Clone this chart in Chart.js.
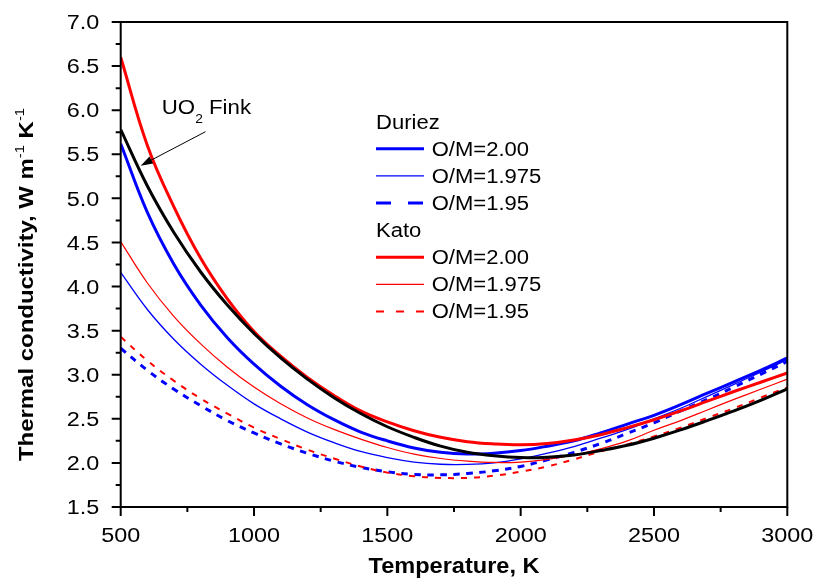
<!DOCTYPE html>
<html>
<head>
<meta charset="utf-8">
<title>Thermal conductivity</title>
<script src="https://cdn.jsdelivr.net/npm/chart.js@4.4.1/dist/chart.umd.min.js"></script>
<style>
  html, body { margin: 0; padding: 0; background: #fff; }
  canvas { display: block; }
</style>
</head>
<body>
<canvas id="grafico" width="818" height="581"></canvas>
<script>
// Temperaturas (K) onde as curvas foram lidas
const temperaturas = [500, 600, 700, 800, 900, 1000, 1100, 1200, 1300, 1400, 1500, 1600, 1700,
                      1800, 1900, 2000, 2100, 2200, 2300, 2400, 2500, 2600, 2700, 2800, 2900, 3000];

// Condutividade térmica (W m-1 K-1) - modelo Duriez
const duriez200  = [5.62, 4.84, 4.25, 3.79, 3.42, 3.12, 2.87, 2.66, 2.49, 2.35, 2.25, 2.17, 2.12,
                    2.10, 2.11, 2.14, 2.19, 2.25, 2.34, 2.44, 2.54, 2.66, 2.79, 2.92, 3.05, 3.19];
const duriez1975 = [4.16, 3.74, 3.40, 3.12, 2.88, 2.67, 2.50, 2.35, 2.23, 2.13, 2.06, 2.01, 1.985,
                    1.983, 2.00, 2.045, 2.11, 2.185, 2.28, 2.38, 2.50, 2.62, 2.755, 2.89, 3.03, 3.17];
const duriez195  = [3.30, 3.05, 2.835, 2.65, 2.48, 2.34, 2.215, 2.11, 2.02, 1.95, 1.90, 1.87, 1.865,
                    1.88, 1.91, 1.96, 2.035, 2.12, 2.22, 2.335, 2.455, 2.59, 2.72, 2.86, 3.005, 3.15];

// Modelo Kato
const kato200  = [6.60, 5.60, 4.90, 4.32, 3.86, 3.49, 3.21, 2.97, 2.765, 2.59, 2.465, 2.365, 2.29,
                  2.24, 2.215, 2.205, 2.22, 2.26, 2.32, 2.40, 2.49, 2.59, 2.70, 2.81, 2.915, 3.02];
const kato1975 = [4.51, 4.04, 3.66, 3.35, 3.085, 2.86, 2.67, 2.51, 2.38, 2.27, 2.175, 2.10, 2.05,
                  2.02, 2.005, 2.01, 2.04, 2.09, 2.16, 2.25, 2.37, 2.48, 2.60, 2.72, 2.835, 2.95];
const kato195  = [3.43, 3.16, 2.93, 2.73, 2.56, 2.40, 2.27, 2.15, 2.05, 1.96, 1.89, 1.85, 1.83,
                  1.83, 1.855, 1.90, 1.96, 2.04, 2.13, 2.21, 2.30, 2.40, 2.51, 2.62, 2.74, 2.855];

// Referência UO2 (Fink)
const finkUO2 = [5.78, 5.14, 4.61, 4.165, 3.79, 3.467, 3.19, 2.95, 2.74, 2.56, 2.41, 2.29, 2.19,
                 2.12, 2.08, 2.06, 2.065, 2.09, 2.14, 2.20, 2.28, 2.375, 2.48, 2.59, 2.71, 2.84];

// Marcações dos eixos
const ticksX = [500, 1000, 1500, 2000, 2500, 3000];
const ticksY = [1.5, 2.0, 2.5, 3.0, 3.5, 4.0, 4.5, 5.0, 5.5, 6.0, 6.5, 7.0];

const AZUL = '#0000ff';
const VERMELHO = '#ff0000';
const PRETO = '#000000';
const FONTE = '"Liberation Sans", Arial, sans-serif';

function pontos(serie) {
    return temperaturas.map((t, i) => ({ x: t, y: serie[i] }));
}

function curva(serie, cor, largura, tracejado, ordem) {
    return {
        data: pontos(serie),
        borderColor: cor,
        borderWidth: largura,
        borderDash: tracejado || [],
        pointRadius: 0,
        fill: false,
        tension: 0.4,
        order: ordem
    };
}

// Legenda em dois grupos (Duriez / Kato)
const legenda = [
    { titulo: 'Duriez' },
    { texto: 'O/M=2.00',  cor: AZUL, largura: 3, tracejado: [] },
    { texto: 'O/M=1.975', cor: AZUL, largura: 1.3, tracejado: [] },
    { texto: 'O/M=1.95',  cor: AZUL, largura: 3, tracejado: [15, 17] },
    { titulo: 'Kato' },
    { texto: 'O/M=2.00',  cor: VERMELHO, largura: 3, tracejado: [] },
    { texto: 'O/M=1.975', cor: VERMELHO, largura: 1.2, tracejado: [] },
    { texto: 'O/M=1.95',  cor: VERMELHO, largura: 2, tracejado: [8, 12] }
];

// Seta e rótulo da curva de Fink (em coordenadas de dados)
const setaFink = { de: [818, 5.756], para: [575, 5.371] };
const rotuloFink = [654, 5.953];

// Texto levemente esticado na horizontal, como na fonte original
function textoEsticado(ctx, texto, x, y, esticar, alinhar) {
    ctx.save();
    ctx.translate(x, y);
    ctx.scale(esticar, 1);
    ctx.textAlign = alinhar || 'left';
    ctx.textBaseline = 'alphabetic';
    ctx.fillText(texto, 0, 0);
    ctx.restore();
}

const moldura = {
    id: 'moldura',
    afterDraw(chart) {
        const ctx = chart.ctx;
        const area = chart.chartArea;
        const sx = chart.scales.x;
        const sy = chart.scales.y;
        ctx.save();
        ctx.fillStyle = PRETO;
        ctx.strokeStyle = PRETO;

        // caixa do gráfico
        ctx.lineWidth = 2;
        ctx.setLineDash([]);
        ctx.strokeRect(area.left, area.top, area.right - area.left, area.bottom - area.top);

        // marcas principais e secundárias
        ctx.beginPath();
        ticksX.forEach((v, i) => {
            const px = sx.getPixelForValue(v);
            ctx.moveTo(px, area.bottom); ctx.lineTo(px, area.bottom + 9);
            if (i < ticksX.length - 1) {
                const pm = sx.getPixelForValue((v + ticksX[i + 1]) / 2);
                ctx.moveTo(pm, area.bottom); ctx.lineTo(pm, area.bottom + 5);
            }
        });
        ticksY.forEach((v, i) => {
            const py = sy.getPixelForValue(v);
            ctx.moveTo(area.left, py); ctx.lineTo(area.left - 9, py);
            if (i < ticksY.length - 1) {
                const pm = sy.getPixelForValue((v + ticksY[i + 1]) / 2);
                ctx.moveTo(area.left, pm); ctx.lineTo(area.left - 5, pm);
            }
        });
        ctx.stroke();

        // rótulos das marcas
        ctx.font = '20px ' + FONTE;
        ticksX.forEach(v => {
            textoEsticado(ctx, String(v), sx.getPixelForValue(v), area.bottom + 35, 1.17, 'center');
        });
        ticksY.forEach(v => {
            textoEsticado(ctx, v.toFixed(1), area.left - 21.5, sy.getPixelForValue(v) + 7.2, 1.17, 'right');
        });

        // título do eixo x
        ctx.font = 'bold 22px ' + FONTE;
        textoEsticado(ctx, 'Temperature, K', (area.left + area.right) / 2, area.bottom + 66, 1.07, 'center');

        // título do eixo y, com expoentes
        const partes = [
            { t: 'Thermal conductivity, W m', f: 'bold 21px ' + FONTE, dy: 0 },
            { t: '-1', f: '13px ' + FONTE, dy: -9 },
            { t: ' K', f: 'bold 21px ' + FONTE, dy: 0 },
            { t: '-1', f: '13px ' + FONTE, dy: -9 }
        ];
        const esticarY = 1.14;
        let total = 0;
        partes.forEach(p => { ctx.font = p.f; p.w = ctx.measureText(p.t).width; total += p.w; });
        ctx.save();
        ctx.translate(area.left - 87.4, (area.top + area.bottom) / 2 + 20);
        ctx.rotate(-Math.PI / 2);
        ctx.scale(esticarY, 1);
        ctx.textAlign = 'left';
        ctx.textBaseline = 'alphabetic';
        let cx = -total / 2;
        partes.forEach(p => {
            ctx.font = p.f;
            ctx.fillText(p.t, cx, p.dy);
            cx += p.w;
        });
        ctx.restore();

        // legenda
        const x0 = area.left + 255.3;
        let y0 = area.top + 99.7;
        legenda.forEach(item => {
            if (item.titulo) {
                ctx.font = '19.5px ' + FONTE;
                ctx.fillStyle = PRETO;
                textoEsticado(ctx, item.titulo, x0, y0 + 7, 1.13, 'left');
            } else {
                ctx.beginPath();
                ctx.strokeStyle = item.cor;
                ctx.lineWidth = item.largura;
                ctx.setLineDash(item.tracejado);
                ctx.moveTo(x0, y0); ctx.lineTo(x0 + 48, y0);
                ctx.stroke();
                ctx.setLineDash([]);
                ctx.font = '19.5px ' + FONTE;
                ctx.fillStyle = PRETO;
                textoEsticado(ctx, item.texto, x0 + 55.7, y0 + 7, 1.13, 'left');
            }
            y0 += 27.1;
        });

        // rótulo "UO2 Fink" e seta
        const lx = sx.getPixelForValue(rotuloFink[0]);
        const ly = sy.getPixelForValue(rotuloFink[1]);
        ctx.fillStyle = PRETO;
        ctx.font = '21px ' + FONTE;
        textoEsticado(ctx, 'UO', lx, ly, 1.06, 'left');
        const wUO = ctx.measureText('UO').width * 1.06;
        ctx.font = '13px ' + FONTE;
        textoEsticado(ctx, '2', lx + wUO, ly + 8.4, 1.06, 'left');
        const w2 = ctx.measureText('2').width * 1.06;
        ctx.font = '21px ' + FONTE;
        textoEsticado(ctx, ' Fink', lx + wUO + w2, ly, 1.06, 'left');

        const ax = sx.getPixelForValue(setaFink.de[0]);
        const ay = sy.getPixelForValue(setaFink.de[1]);
        const bx = sx.getPixelForValue(setaFink.para[0]);
        const by = sy.getPixelForValue(setaFink.para[1]);
        const ang = Math.atan2(by - ay, bx - ax);
        ctx.strokeStyle = PRETO;
        ctx.lineWidth = 1;
        ctx.beginPath();
        ctx.moveTo(ax, ay);
        ctx.lineTo(bx - 10 * Math.cos(ang), by - 10 * Math.sin(ang));
        ctx.stroke();
        ctx.beginPath();
        ctx.moveTo(bx, by);
        ctx.lineTo(bx - 12 * Math.cos(ang) + 4 * Math.sin(ang), by - 12 * Math.sin(ang) - 4 * Math.cos(ang));
        ctx.lineTo(bx - 12 * Math.cos(ang) - 4 * Math.sin(ang), by - 12 * Math.sin(ang) + 4 * Math.cos(ang));
        ctx.closePath();
        ctx.fill();

        ctx.restore();
    }
};

const grafico = new Chart(document.getElementById('grafico').getContext('2d'), {
    type: 'line',
    data: {
        datasets: [
            curva(duriez200,  AZUL, 3, null, 6),
            curva(duriez1975, AZUL, 1.3, null, 4),
            curva(duriez195,  AZUL, 3, [6.5, 6.5], 5),
            curva(kato200,    VERMELHO, 3, null, 3),
            curva(kato1975,   VERMELHO, 1.2, null, 2),
            curva(kato195,    VERMELHO, 2, [6, 7], 1),
            curva(finkUO2,    PRETO, 3, null, 0)
        ]
    },
    options: {
        responsive: false,
        animation: false,
        devicePixelRatio: 1,
        layout: { padding: { left: 120.7, right: 30.7, top: 22, bottom: 74 } },
        plugins: { legend: { display: false }, tooltip: { enabled: false } },
        scales: {
            x: { type: 'linear', min: 500, max: 3000, display: false },
            y: { type: 'linear', min: 1.5, max: 7.0, display: false }
        }
    },
    plugins: [moldura]
});
</script>
</body>
</html>
